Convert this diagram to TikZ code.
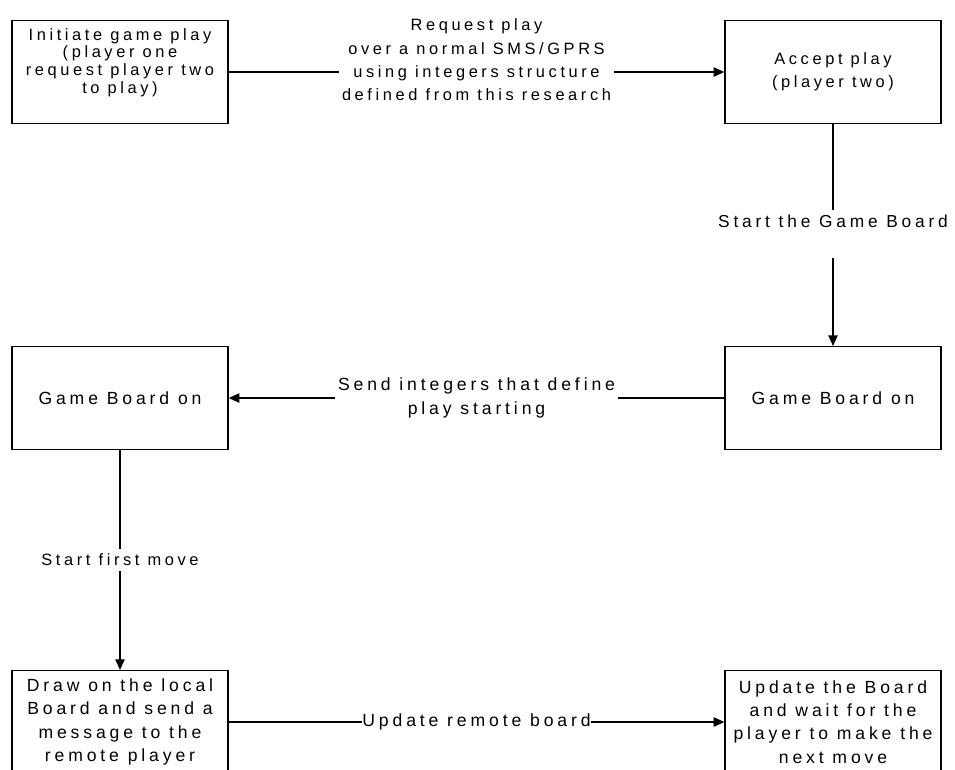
\documentclass[tikz,border=0pt]{standalone}
\usepackage{fontspec}
\setmainfont{Liberation Sans}[LetterSpace=22]
\usetikzlibrary{arrows.meta, positioning}

\begin{document}
\begin{tikzpicture}[
		x=0.75pt, y=-0.75pt,
		every node/.style={font=\fontsize{12.3}{17.5}\selectfont, align=center},
		bigtext/.style={font=\fontsize{13.2}{17.5}\selectfont},
		stepbox/.style={draw, rectangle, line width=1pt, minimum width=162pt, minimum height=77pt, inner sep=2pt},
		msg/.style={fill=white, inner xsep=2pt, inner ysep=1pt},
		flow/.style={-{Triangle[length=8pt,width=7pt]}, line width=1pt}
		]
		\clip (0,0) rectangle (955,769);
		% Top row
		\node[stepbox, font=\fontsize{12.3}{13.3}\selectfont, text depth=17pt] (init) at (120,72) {Initiate game play\\(player one\\request player two\\to play)};
		\node[stepbox] (accept) at (833,72) {Accept play\\(player two)};
		% Middle row
		\node[stepbox, bigtext] (boardL) at (120,398) {Game Board on};
		\node[stepbox, bigtext] (boardR) at (833,398) {Game Board on};
		% Bottom row, cut by the page edge
		\node[stepbox, bigtext] (drawlocal) at (120,722) {Draw on the local\\Board and send a\\message to the\\remote player};
		\node[stepbox, bigtext] (updateboard) at (833,722) {Update the Board\\and wait for the\\player to make the\\next move};
		
		% Messages between the players
		\draw[flow] (init) -- node[msg, yshift=9pt] {Request play\\over a normal SMS/GPRS\\using integers structure\\defined from this research} (accept);
		\draw[flow] (accept) -- node[msg, font=\fontsize{13}{17.5}\selectfont, anchor=base, yshift=6pt, text height=12.75pt, text depth=23pt, inner ysep=0pt] {Start the Game Board} (boardR);
		\draw[flow] (boardR) -- node[msg, bigtext] {Send integers that define\\play starting} (boardL);
		\draw[flow] (boardL) -- node[msg, minimum height=17pt] {Start first move} (drawlocal);
		\draw[flow] (drawlocal) -- node[msg, bigtext, inner xsep=0pt] {Update remote board} (updateboard);
	\end{tikzpicture}
\end{document}
